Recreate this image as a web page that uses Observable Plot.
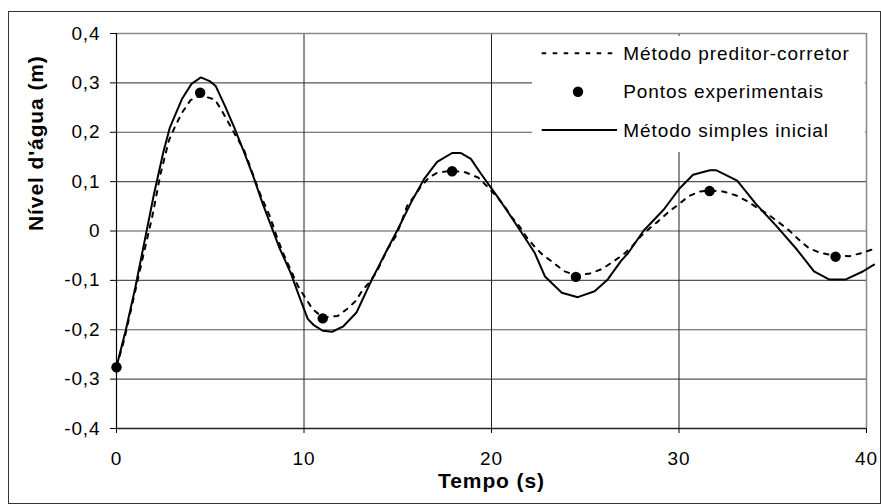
<!DOCTYPE html>
<html>
<head>
<meta charset="utf-8">
<script src="https://cdn.jsdelivr.net/npm/d3@7"></script>
<script src="https://cdn.jsdelivr.net/npm/@observablehq/plot@0.6"></script>
<style>
  html, body { margin: 0; padding: 0; background: #fff; }
  #wrap { position: relative; width: 881px; height: 504px; overflow: hidden;
          font-family: "Liberation Sans", Arial, sans-serif; }
  #wrap svg text { letter-spacing: 0.9px; }
  #chart { position: absolute; left: 0; top: 0; }
  #frame { position: absolute; left: 8px; top: 11px; width: 871px; height: 491px;
           border: 1px solid #333; pointer-events: none; }
  #legend { position: absolute; left: 532px; top: 36px; width: 333px; height: 116px; background: #fff; }
  #legend svg { display: block; }
</style>
</head>
<body>
<div id="wrap">
  <div id="chart"></div>
  <div id="legend"></div>
  <div id="frame"></div>
</div>
<script>
// ---- data ----
const tempoExp = [0, 4.46, 11.0, 17.9, 24.5, 31.63, 38.35];
const nivelExp = [-0.276, 0.28, -0.177, 0.121, -0.093, 0.081, -0.052];

const tempoSimples = [0, 0.5, 1.0, 1.5, 2.0, 2.5, 2.85, 3.5, 4.0, 4.5, 5.0, 5.3, 5.8, 6.3, 6.8, 7.3, 7.8, 8.2, 8.7, 9.3,
  9.75, 10.2, 10.5, 11.0, 11.5, 12.1, 12.8, 13.6, 14.35, 15.0, 15.7, 16.4, 17.1, 17.9, 18.35, 18.9, 19.4, 19.95, 20.4,
  20.9, 21.6, 22.3, 22.85, 23.75, 24.6, 25.5, 26.2, 26.9, 27.3, 28.1, 29.2, 30.0, 30.75, 31.65, 32.0, 33.1, 34.1,
  35.2, 36.3, 37.2, 38.0, 38.9, 39.8, 40.4];
const nivelSimples = [-0.275, -0.2, -0.115, -0.02, 0.075, 0.16, 0.21, 0.268, 0.298, 0.311, 0.303, 0.293, 0.252, 0.208,
  0.16, 0.11, 0.055, 0.015, -0.035, -0.086, -0.133, -0.178, -0.19, -0.202, -0.204, -0.193, -0.165, -0.1, -0.044, 0.003,
  0.057, 0.105, 0.14, 0.158, 0.158, 0.146, 0.118, 0.089, 0.065, 0.037, -0.003, -0.044, -0.092, -0.125, -0.134, -0.122,
  -0.098, -0.061, -0.044, 0, 0.044, 0.085, 0.114, 0.123, 0.123, 0.102, 0.055, 0.01, -0.038, -0.082, -0.098, -0.098,
  -0.082, -0.068];

const tempoPreditor = [0, 0.4, 0.8, 1.45, 1.9, 2.35, 2.8, 3.15, 3.5, 3.95, 4.5, 5.25, 5.6, 6.3, 6.8, 7.65, 8.2, 8.55,
  8.9, 9.7, 10.05, 10.45, 11.0, 11.8, 12.3, 12.75, 13.1, 13.55, 13.9, 14.45, 14.9, 15.25, 15.5, 15.85, 16.2, 16.65,
  17.1, 17.8, 18.6, 19.3, 19.75, 20.3, 20.75, 21.1, 21.5, 21.9, 22.35, 22.75, 23.3, 23.85, 24.5, 25.25, 25.9, 26.45,
  27.05, 27.5, 27.95, 28.45, 28.9, 29.45, 29.95, 30.5, 31.1, 31.65, 32.35, 33.05, 33.7, 34.3, 34.75, 35.3, 35.85,
  36.35, 36.9, 37.5, 38.3, 39.1, 39.8, 40.4];
const nivelPreditor = [-0.275, -0.222, -0.155, -0.046, 0.028, 0.116, 0.184, 0.214, 0.24, 0.265, 0.275, 0.266, 0.245,
  0.197, 0.164, 0.076, 0.028, -0.012, -0.046, -0.113, -0.134, -0.158, -0.175, -0.172, -0.158, -0.142, -0.121, -0.101,
  -0.081, -0.037, -0.01, 0.024, 0.051, 0.069, 0.088, 0.108, 0.118, 0.122, 0.119, 0.108, 0.091, 0.069, 0.047, 0.027,
  0.009, -0.014, -0.034, -0.049, -0.064, -0.081, -0.09, -0.086, -0.077, -0.063, -0.047, -0.031, -0.011, 0.006, 0.02,
  0.039, 0.053, 0.07, 0.08, 0.082, 0.08, 0.072, 0.059, 0.044, 0.034, 0.018, 0.002, -0.016, -0.034, -0.044, -0.05,
  -0.051, -0.044, -0.036];

const xTicks = [0, 10, 20, 30, 40];
const yTicks = [-0.4, -0.3, -0.2, -0.1, 0, 0.1, 0.2, 0.3, 0.4];
const xTitle = "Tempo (s)";
const yTitle = "Nível d'água (m)";
const seriesNames = ["Método preditor-corretor", "Pontos experimentais", "Método simples inicial"];

// ---- build tables ----
const exp = tempoExp.map((t, i) => ({t, v: nivelExp[i]}));
const simples = tempoSimples.map((t, i) => ({t, v: nivelSimples[i]}));
const preditor = tempoPreditor.map((t, i) => ({t, v: nivelPreditor[i]}));
const fmtY = d => Math.abs(d) < 1e-9 ? "0" : d.toFixed(1).replace(".", ",");
const fmtX = d => String(Math.round(d));

const font = '"Liberation Sans", Arial, sans-serif';
const chart = Plot.plot({
  width: 881, height: 504,
  marginLeft: 116, marginRight: 15, marginTop: 33, marginBottom: 76,
  x: {domain: [0, 40]},
  y: {domain: [-0.4, 0.4]},
  style: {fontFamily: font, fontSize: "19px", color: "#000", background: "transparent", overflow: "visible"},
  marks: [
    Plot.gridY(yTicks, {stroke: "#555", strokeOpacity: 1, strokeWidth: 1.2}),
    Plot.gridX(xTicks.slice(1, -1), {stroke: "#222", strokeOpacity: 1, strokeWidth: 1}),
    Plot.ruleY([yTicks[yTicks.length - 1]], {stroke: "#888", strokeWidth: 1.5}),
    Plot.ruleX([xTicks[xTicks.length - 1]], {stroke: "#888", strokeWidth: 1.5}),
    Plot.ruleX([xTicks[0]], {stroke: "#000", strokeWidth: 1.2}),
    Plot.ruleY([yTicks[0]], {stroke: "#222", strokeWidth: 1.5}),
    Plot.axisX(xTicks, {tickSize: 5, tickPadding: 18, tickFormat: fmtX, label: null, stroke: "#000"}),
    Plot.axisY(yTicks, {tickSize: 6, tickPadding: 10, tickFormat: fmtY, label: null, stroke: "#000"}),
    Plot.line(preditor, {x: "t", y: "v", stroke: "#000", strokeWidth: 2, strokeDasharray: "4.5,6.5"}),
    Plot.line(simples, {x: "t", y: "v", stroke: "#000", strokeWidth: 2}),
    Plot.dot(exp, {x: "t", y: "v", r: 5.2, fill: "#000", stroke: "none"}),
    Plot.text([xTitle], {text: d => d, frameAnchor: "bottom", dy: 59, fontWeight: "bold", fontSize: 21}),
    Plot.text([yTitle], {text: d => d, frameAnchor: "left", dx: -80, rotate: -90, fontWeight: "bold", fontSize: 21})
  ]
});
document.getElementById("chart").appendChild(chart);

// ---- legend ----
const NS = "http://www.w3.org/2000/svg";
const lsvg = document.createElementNS(NS, "svg");
lsvg.setAttribute("width", 333); lsvg.setAttribute("height", 116);
const rows = [17.3, 55.7, 94];
seriesNames.forEach((name, i) => {
  const y = rows[i];
  if (i === 1) {
    const c = document.createElementNS(NS, "circle");
    c.setAttribute("cx", 46); c.setAttribute("cy", y); c.setAttribute("r", 5.2); c.setAttribute("fill", "#000");
    lsvg.appendChild(c);
  } else {
    const l = document.createElementNS(NS, "line");
    l.setAttribute("x1", 9.7); l.setAttribute("x2", 85); l.setAttribute("y1", y); l.setAttribute("y2", y);
    l.setAttribute("stroke", "#000"); l.setAttribute("stroke-width", 2);
    if (i === 0) l.setAttribute("stroke-dasharray", "4.5,6.5");
    lsvg.appendChild(l);
  }
  const t = document.createElementNS(NS, "text");
  t.setAttribute("x", 91.3); t.setAttribute("y", y); t.setAttribute("dy", "0.35em");
  t.setAttribute("font-family", font); t.setAttribute("font-size", 19);
  t.setAttribute("letter-spacing", "0.9px");
  t.textContent = name;
  lsvg.appendChild(t);
});
document.getElementById("legend").appendChild(lsvg);
</script>
</body>
</html>
